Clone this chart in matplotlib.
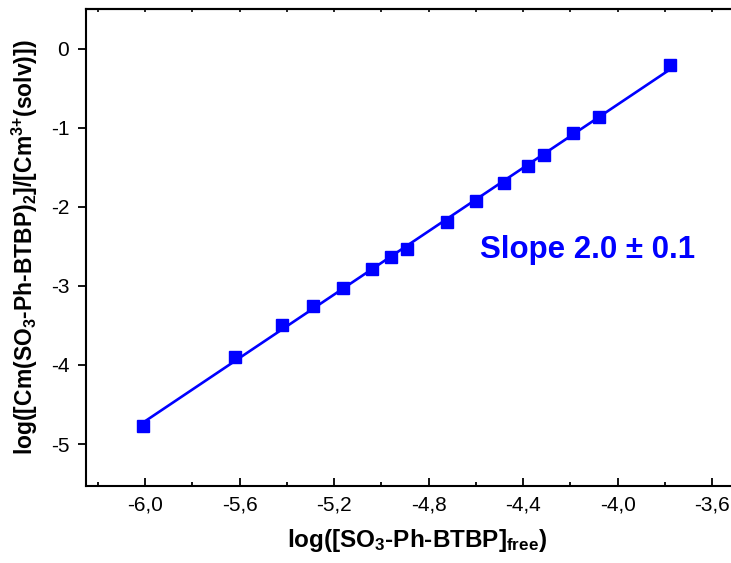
import matplotlib
matplotlib.use("Agg")
import matplotlib.pyplot as plt
import numpy as np
from matplotlib.ticker import MultipleLocator, FuncFormatter

plt.rcParams['font.family'] = ['Liberation Sans', 'DejaVu Sans']
plt.rcParams['mathtext.default'] = 'regular'

# values
log_ligand = [-6.01, -5.62, -5.42, -5.29, -5.16, -5.04, -4.96, -4.89,
              -4.72, -4.60, -4.48, -4.38, -4.31, -4.19, -4.08, -3.78]
log_ratio = [-4.77, -3.90, -3.50, -3.25, -3.03, -2.79, -2.64, -2.53,
             -2.19, -1.93, -1.70, -1.49, -1.34, -1.07, -0.86, -0.21]
slope_text = "Slope 2.0 \u00b1 0.1"

blue = "#0000FF"

fig = plt.figure(figsize=(7.31, 5.63), dpi=100)
ax = fig.add_axes([0.1176, 0.1368, 0.905, 0.847])

# linear fit line
p = np.polyfit(log_ligand, log_ratio, 1)
xf = np.array([log_ligand[0], log_ligand[-1]])
ax.plot(xf, np.polyval(p, xf), color=blue, lw=1.9, zorder=2)
ax.plot(log_ligand, log_ratio, 's', color=blue, ms=8.5, zorder=3)

ax.set_xlim(-6.25, -3.45)
ax.set_ylim(-5.53, 0.5)

ax.xaxis.set_major_locator(MultipleLocator(0.4))
ax.xaxis.set_minor_locator(MultipleLocator(0.2))
ax.yaxis.set_major_locator(MultipleLocator(1))
ax.xaxis.set_major_formatter(FuncFormatter(lambda v, _: f"{v:.1f}".replace('.', ',')))
ax.yaxis.set_major_formatter(FuncFormatter(lambda v, _: "0" if abs(v) < 0.5 else f"{v:.0f}"))

ax.tick_params(axis='x', which='major', direction='in', length=6, width=1.3, labelsize=15, pad=7)
ax.tick_params(axis='x', which='minor', direction='in', length=3, width=1.3)
ax.tick_params(axis='y', which='major', direction='out', length=6, width=1.3, labelsize=15, pad=6)

for s in ax.spines.values():
    s.set_linewidth(1.5)

# short ticks on the top frame
top = ax.secondary_xaxis('top')
top.xaxis.set_major_locator(MultipleLocator(0.2))
top.tick_params(direction='in', length=2.5, width=1.2, labeltop=False)
top.spines['top'].set_linewidth(1.5)

ax.set_xlabel("log([SO$_3$-Ph-BTBP]$_{free}$)", fontsize=17.5, fontweight='bold')
ax.set_ylabel("log([Cm(SO$_3$-Ph-BTBP)$_2$]/[Cm$^{3{+}}$(solv)])", fontsize=16.5, fontweight='bold')
ax.xaxis.set_label_coords(0.5, -0.085)
ax.yaxis.set_label_coords(-0.0695, 0.5)

ax.text(0.596, 0.478, slope_text, transform=ax.transAxes, color=blue,
        fontsize=22.5, fontweight='bold', ha='left', va='baseline')

fig.savefig("out.png", dpi=100)
